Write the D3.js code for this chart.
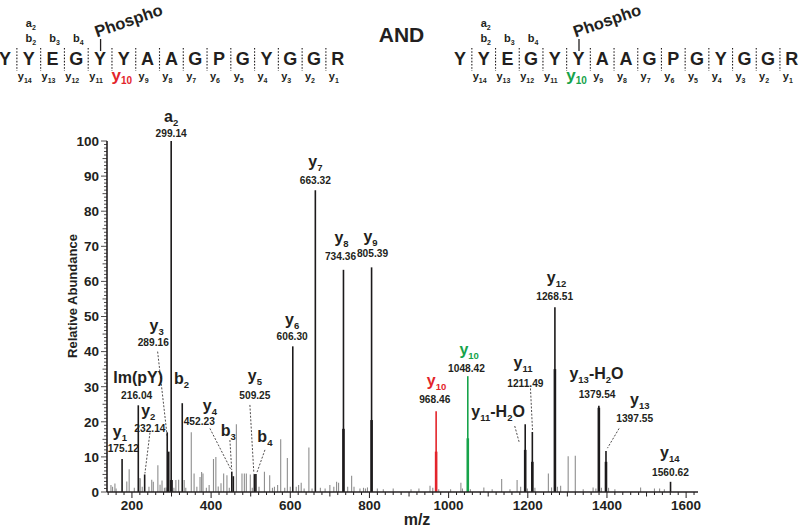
<!DOCTYPE html>
<html><head><meta charset="utf-8">
<script src="https://cdn.jsdelivr.net/npm/d3@7"></script>
<style>
body{margin:0;background:#fff}
svg{display:block}
text{font-family:"Liberation Sans",Arial,Helvetica,sans-serif;font-weight:bold;fill:#231f20}
</style>
</head><body>
<svg id="chart" width="800" height="527"></svg>
<script>
// ---------------- DATA ----------------
const peptide = ["Y","Y","E","G","Y","Y","A","A","G","P","G","Y","G","G","R"];

// labelled / main fragment peaks
const mainMz  = [175.12, 216.04, 232.14, 289.16, 293.0, 299.14, 301.0, 327.1, 452.23, 456.17, 509.25, 513.19, 606.30, 663.32, 734.36, 805.39, 968.46, 1048.42, 1193.48, 1211.49, 1268.51, 1379.54, 1397.55, 1560.62];
const mainInt = [9.4, 24.7, 5.0, 17.0, 11.5, 100, 3.4, 25.3, 5.8, 4.5, 5.1, 5.1, 41.5, 86.0, 63.3, 64.0, 23.0, 33.0, 19.3, 17.1, 52.6, 24.6, 11.7, 2.9];
const mainKind = ["k","k","k","k","k","k","k","k","k","k","k","k","k","k","k","k","r","g","k","k","k","k","k","k"];

// darker lower parts of some peaks (overlaid spectrum)
const baseMz  = [299.14, 734.36, 805.39, 968.46, 1048.42, 1193.48, 1211.49, 1268.51, 1379.54, 1397.55];
const baseInt = [3.4, 18.0, 20.5, 11.5, 15.3, 12.0, 8.6, 35.0, 24.0, 8.6];
const baseKind = ["k","k","k","r","g","k","k","k","k","k"];

// unassigned (grey) peaks
const minorMz  = [147,151,157,160,187,193,206,218,221,226,243,250,254,265.5,271,276,282,286,306,311,318,332,336,349.9,357,364,372,376,379.5,388,395,406,412,418,425,431.7,440,446,463.8,478,484,489,499,504,521,534.7,548,555,560,568,575.8,586,592.6,600,615,621,627.6,635,647,655,676,688,700,710,717,722,745,755,761,776,785,790,795,820,835,860,905,925,953,960,975,1005,1031,1035,1055,1089,1110,1134,1155,1173,1182,1199,1218,1252,1260,1275,1283,1302,1320,1340,1365,1372,1386,1404,1420,1485,1520,1533,1545];
const minorInt = [2.0,1.5,2.4,1.0,3.0,6.5,1.2,4.0,3.9,1.5,1.5,3.5,2.9,7.6,2.1,3.3,1.2,1.3,1.2,3.4,3.5,3.4,1.2,17.0,5.3,1.5,4.3,5.7,5.3,1.2,2.0,9.4,10.0,1.6,2.5,5.3,4.8,1.2,19.3,5.3,5.3,5.3,5.0,1.2,1.5,5.8,4.8,1.2,1.5,2.0,15.0,1.2,9.7,1.5,1.5,2.0,2.6,1.0,12.7,1.0,1.2,1.0,2.0,1.5,2.9,2.6,1.5,4.6,1.5,1.0,1.2,1.0,1.3,1.0,0.8,1.0,0.8,1.0,1.8,1.2,0.8,0.8,2.6,1.0,0.8,1.3,0.8,3.7,0.8,3.4,1.5,1.0,1.2,5.3,1.3,1.5,1.8,10.2,10.3,0.8,1.3,1.0,1.2,1.2,0.8,1.3,1.0,1.0,0.8];

// peak annotations (same order in every array)
//            a2   y7  y8  y9  y6  Im(pY)   b2  y3  y2  y1  y4  b3  y5  b4  y10  y11-H2O y11  y12  y13-H2O y13  y14  y10
const annIon   = ["a","y","y","y","y","Im(pY)","b","y","y","y","y","b","y","b","y","y","y","y","y","y","y","y"];
const annSub   = ["2","7","8","9","6","","2","3","2","1","4","3","5","4","10","11","11","12","13","13","14","10"];
const annSuf   = ["","","","","","","","","","","","","","","","-H|2|O","","","-H|2|O","","",""];
const annValue = ["299.14","663.32","734.36","805.39","606.30","216.04","","289.16","232.14","175.12","452.23","","509.25","","968.46","","1211.49","1268.51","1379.54","1397.55","1560.62","1048.42"];
const annColor = ["k","k","k","k","k","k","k","k","k","k","k","k","k","k","r","k","k","k","k","k","k","g"];

const xTicks = [200,400,600,800,1000,1200,1400,1600];
const yTicks = [0,10,20,30,40,50,60,70,80,90,100];

// ---------------- LAYOUT (label anchors in data units) ----------------
// [letterMz, letterInt, valueMz, valueInt, leader(mz1,int1,mz2,int2) or null]
const annLayout = [
  [299.14,106.5, 299.14,102.2, null],            // a2
  [663.32, 93.8, 663.32, 88.7, null],            // y7
  [729.5, 72.2, 727.0, 67.0, null],              // y8
  [802.8, 72.5, 807.8, 68.0, null],              // y9
  [604.8, 48.8, 604.8, 44.2, null],              // y6
  [215.9, 32.1, 211.9, 27.6, null],              // Im(pY)
  [325.5, 31.9, 0, 0, null],                     // b2
  [262.4, 47.0, 253.8, 42.5, [264.9,40.0,289.1,15.8]], // y3
  [241.2, 22.8, 245.5, 18.1, [245.5,16.9,232.8,5.3]],  // y2
  [169.7, 16.9, 178.0, 12.3, null],              // y1
  [397.0, 24.2, 370.0, 20.0, [397.0,18.1,450.5,6.3]],  // y4
  [443.2, 17.2, 0, 0, [447.5,14.8,452.0,6.3]],   // b3
  [510.6, 32.8, 510.6, 27.6, [498.0,24.8,508.0,5.3]],  // y5
  [535.9, 15.3, 0, 0, [536.0,12.0,515.0,5.3]],   // b4
  [969.4, 31.2, 965.0, 26.4, null],              // red y10
  [1125.0, 22.4, 0, 0, [1167.0,18.8,1178.0,14.3]],// y11-H2O
  [1188.0, 36.4, 1194.0, 31.0, [1206.8,29.5,1211.9,17.7]], // y11
  [1272.5, 60.8, 1268.0, 55.8, null],            // y12
  [1373.5, 33.2, 1375.0, 27.9, null],            // y13-H2O
  [1482.8, 25.8, 1470.0, 21.0, [1430.6,18.1,1401.3,12.5]], // y13
  [1558.6, 10.7, 1560.4, 5.5, null],             // y14
  [1051.8, 40.2, 1045.2, 35.2, null]             // green y10
];

// ---------------- DRAW ----------------
const COL = {k:"#1c1a1b", r:"#e3242b", g:"#16a34a", grey:"#8e8e8e", ink:"#231f20"};
const svg = d3.select("#chart");

const x = d3.scaleLinear().domain([137, 1630]).range([107, 698]);
const y = d3.scaleLinear().domain([0, 100]).range([492, 141]);

// minor peaks
svg.append("g").selectAll("line").data(minorMz).join("line")
  .attr("x1", d => x(d)).attr("x2", d => x(d))
  .attr("y1", y(0)).attr("y2", (d,i) => y(minorInt[i]))
  .attr("stroke", COL.grey).attr("stroke-width", 1.1);

// main peaks
svg.append("g").selectAll("line").data(mainMz).join("line")
  .attr("x1", d => x(d)).attr("x2", d => x(d))
  .attr("y1", y(0)).attr("y2", (d,i) => y(mainInt[i]))
  .attr("stroke", (d,i) => COL[mainKind[i]]).attr("stroke-width", 1.6);

// thicker bases
svg.append("g").selectAll("line").data(baseMz).join("line")
  .attr("x1", d => x(d)).attr("x2", d => x(d))
  .attr("y1", y(0)).attr("y2", (d,i) => y(baseInt[i]))
  .attr("stroke", (d,i) => COL[baseKind[i]])
  .attr("stroke-width", 2.6);

// axes
const xMinor = d3.range(140, 1631, 20);
const gx = svg.append("g").attr("transform", `translate(0,${y(0)})`);
gx.append("line").attr("x1", 107).attr("x2", 698).attr("stroke", COL.ink).attr("stroke-width", 1.6);
gx.selectAll("line.t").data(xMinor).join("line").attr("class","t")
  .attr("x1", d => x(d)).attr("x2", d => x(d)).attr("y1", 0)
  .attr("y2", d => d % 200 === 0 ? 6 : (d % 100 === 0 ? 4.5 : 3))
  .attr("stroke", COL.ink).attr("stroke-width", 1);
gx.selectAll("text").data(xTicks).join("text")
  .attr("x", d => x(d)).attr("y", 18).attr("text-anchor","middle")
  .attr("font-size", 13.5).text(d => d);

const yMinor = d3.range(0, 101, 1);
const gy = svg.append("g").attr("transform", "translate(107,0)");
gy.append("line").attr("y1", y(0)).attr("y2", y(100)).attr("stroke", COL.ink).attr("stroke-width", 1.6);
gy.selectAll("line.t").data(yMinor).join("line").attr("class","t")
  .attr("y1", d => y(d)).attr("y2", d => y(d)).attr("x1", 0)
  .attr("x2", d => d % 10 === 0 ? -6 : (d % 5 === 0 ? -4.5 : -3))
  .attr("stroke", COL.ink).attr("stroke-width", 0.8);
gy.selectAll("text").data(yTicks).join("text")
  .attr("x", -8).attr("y", d => y(d) + 4.8).attr("text-anchor","end")
  .attr("font-size", 13.5).text(d => d);

svg.append("text").attr("transform","translate(77,296) rotate(-90)")
  .attr("text-anchor","middle").attr("font-size",13).text("Relative Abundance");
svg.append("text").attr("x",417).attr("y",525).attr("text-anchor","middle")
  .attr("font-size",16).text("m/z");

// peak annotations
const gA = svg.append("g");
annIon.forEach((ion, i) => {
  const L = annLayout[i];
  const c = COL[annColor[i] === "k" ? "ink" : annColor[i]];
  const t = gA.append("text").attr("x", x(L[0])).attr("y", y(L[1]) + 4)
    .attr("text-anchor","middle").attr("font-size", 16).style("fill", c);
  t.append("tspan").text(ion);
  if (annSub[i]) t.append("tspan").attr("font-size", 9.5).attr("dy", 4).text(annSub[i]);
  if (annSuf[i]) {
    const p = annSuf[i].split("|");
    t.append("tspan").attr("dy", annSub[i] ? -4 : 0).text(p[0]);
    t.append("tspan").attr("font-size", 9.5).attr("dy", 4).text(p[1]);
    t.append("tspan").attr("dy", -4).text(p[2]);
  }
  if (annValue[i]) {
    gA.append("text").attr("x", x(L[2])).attr("y", y(L[3]) + 3.6)
      .attr("text-anchor","middle").attr("font-size", 10.2).text(annValue[i]);
  }
  if (L[4]) {
    const d = L[4];
    gA.append("line").attr("x1", x(d[0])).attr("y1", y(d[1]))
      .attr("x2", x(d[2])).attr("y2", y(d[3]))
      .attr("stroke", COL.ink).attr("stroke-width", 0.8).attr("stroke-dasharray","2,1.6");
  }
});

// peptide diagrams
function drawPeptide(x0, step, phosIdx, hiIdx, hiColor) {
  const g = svg.append("g");
  const xs = peptide.map((d, i) => x0 + i * step);
  g.selectAll("text.aa").data(peptide).join("text").attr("class","aa")
    .attr("x", (d,i) => xs[i]).attr("y", 65).attr("text-anchor","middle")
    .attr("font-size", 18).text(d => d);
  g.selectAll("line.sep").data(xs.slice(0, -1)).join("line").attr("class","sep")
    .attr("x1", d => d + step/2).attr("x2", d => d + step/2)
    .attr("y1", 48).attr("y2", 71)
    .attr("stroke", COL.ink).attr("stroke-width", 1.1).attr("stroke-dasharray","1.6,1.6");
  for (let i = 1; i < peptide.length; i++) {
    const n = peptide.length - i;
    const hi = i === hiIdx;
    const t = g.append("text").attr("x", xs[i] - (hi ? 2 : 4)).attr("y", hi ? 81 : 80)
      .attr("text-anchor","middle").attr("font-size", hi ? 17 : 11)
      .style("fill", hi ? hiColor : COL.ink);
    t.append("tspan").text("y");
    t.append("tspan").attr("font-size", hi ? 10 : 7).attr("dy", hi ? 3 : 2.5).text(n);
  }
  [[1,"b","2"],[2,"b","3"],[3,"b","4"]].forEach(b => {
    const t = g.append("text").attr("x", xs[b[0]] + 2).attr("y", 42)
      .attr("text-anchor","middle").attr("font-size", 11);
    t.append("tspan").text(b[1]);
    t.append("tspan").attr("font-size", 7).attr("dy", 2.5).text(b[2]);
  });
  const ta = g.append("text").attr("x", xs[1] + 2).attr("y", 27)
    .attr("text-anchor","middle").attr("font-size", 11);
  ta.append("tspan").text("a");
  ta.append("tspan").attr("font-size", 7).attr("dy", 2.5).text("2");
  g.append("line").attr("x1", xs[phosIdx] + 0.5).attr("x2", xs[phosIdx] + 0.5)
    .attr("y1", 39).attr("y2", 51).attr("stroke", COL.ink).attr("stroke-width", 1.3);
  g.append("text").attr("transform", `translate(${xs[phosIdx] - 3},37.5) rotate(-19)`)
    .attr("font-size", 16.5).text("Phospho");
}
drawPeptide(5, 23.77, 4, 5, COL.r);
drawPeptide(460, 23.7, 5, 5, COL.g);
svg.append("text").attr("x", 401.5).attr("y", 42).attr("text-anchor","middle")
  .attr("font-size", 21).text("AND");
</script>
</body></html>
